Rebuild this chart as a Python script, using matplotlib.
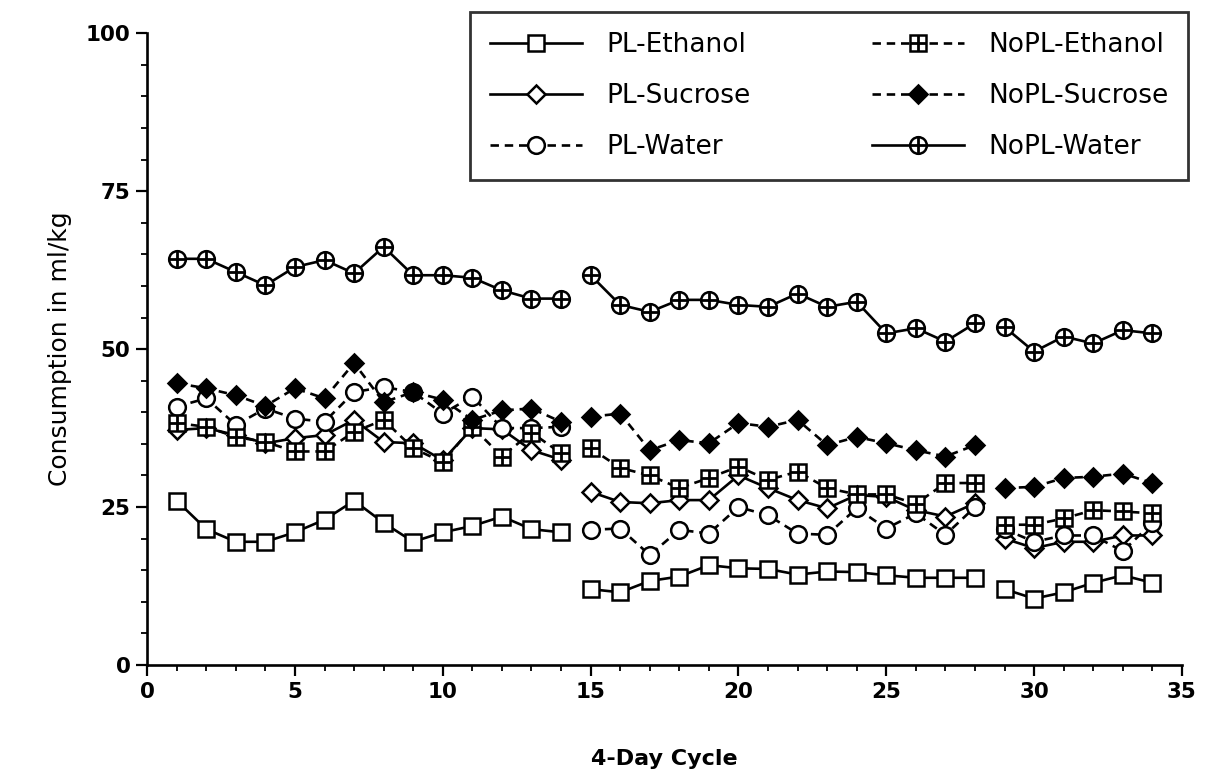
import numpy as np
import matplotlib
matplotlib.use("Agg")
import matplotlib.pyplot as plt
from matplotlib.ticker import MultipleLocator

cycles = list(range(1, 35))
segments = [(0, 14), (14, 28), (28, 34)]

pl_ethanol = [26, 21.5, 19.5, 19.5, 21, 23, 26, 22.5, 19.5, 21, 22, 23.5, 21.5, 21,
              12, 11.5, 13.3, 14, 15.8, 15.3, 15.2, 14.3, 14.8, 14.7, 14.2, 13.8, 13.8, 13.8,
              12, 10.5, 11.5, 13, 14.2, 13]
pl_sucrose = [37.2, 37.5, 36.4, 35.1, 35.9, 36.4, 38.8, 35.3, 35.1, 32.4, 37.5, 37.3, 34, 32.5,
              27.4, 25.8, 25.6, 26.1, 26.1, 30, 28, 26.1, 24.8, 26.9, 26.6, 24.5, 23.5, 25.6,
              20, 18.5, 19.5, 19.5, 20.5, 20.5]
pl_water = [40.9, 42.2, 38, 40.6, 39, 38.5, 43.2, 44, 43.2, 39.8, 42.5, 37.5, 37.5, 37.7,
            21.4, 21.6, 17.4, 21.4, 20.8, 25, 23.7, 20.8, 20.6, 24.8, 21.6, 24, 20.6, 25,
            21.5, 19.5, 20.5, 20.5, 18, 22.5]
nopl_ethanol = [38.3, 37.7, 36.1, 35.3, 33.8, 33.8, 36.9, 38.8, 34.3, 32.1, 37.7, 33, 36.8, 33.5,
                34.3, 31.2, 30, 28, 29.6, 31.4, 29.3, 30.6, 28, 27, 27, 25.5, 28.8, 28.8,
                22.2, 22.2, 23.2, 24.5, 24.3, 24]
nopl_sucrose = [44.6, 43.8, 42.7, 41, 43.8, 42.2, 47.8, 41.6, 43.2, 42, 38.8, 40.3, 40.6, 38.5,
                39.3, 39.8, 34, 35.6, 35.1, 38.3, 37.7, 38.8, 34.8, 36.1, 35.1, 34, 33, 34.8,
                28, 28.2, 29.6, 29.8, 30.3, 28.8]
nopl_water = [64.3, 64.3, 62.2, 60.1, 63, 64.1, 62, 66.2, 61.7, 61.7, 61.3, 59.3, 58, 58,
              61.7, 57, 55.9, 57.8, 57.8, 57, 56.7, 58.8, 56.7, 57.5, 52.5, 53.3, 51.2, 54.1,
              53.5, 49.6, 52, 50.9, 53, 52.5]

dash = (0, (3.2, 2.2))
lw = 1.9
ms = 12

# (label, data, marker, facecolor, linestyle, overlay plus)
series = [
    ("PL-Ethanol", pl_ethanol, "s", "white", "-", False),
    ("PL-Sucrose", pl_sucrose, "D", "white", "-", False),
    ("PL-Water", pl_water, "o", "white", dash, False),
    ("NoPL-Ethanol", nopl_ethanol, "s", "white", dash, True),
    ("NoPL-Sucrose", nopl_sucrose, "D", "black", dash, False),
    ("NoPL-Water", nopl_water, "o", "white", "-", True),
]

fig = plt.figure(figsize=(12.16, 7.75), dpi=100)
ax = fig.add_axes([0.121, 0.142, 0.851, 0.815])

x = np.array(cycles)
handles = []
labels = []
for label, data, mk, fc, ls, plus in series:
    y = np.array(data)
    msz = ms if mk != "D" else ms * 0.8
    for a, b in segments:
        line, = ax.plot(x[a:b], y[a:b], color="black", lw=lw, ls=ls, marker=mk,
                        markersize=msz, markerfacecolor=fc, markeredgecolor="black",
                        markeredgewidth=1.8, zorder=3)
        if plus:
            pl, = ax.plot(x[a:b], y[a:b], ls="none", marker="+", markersize=msz * 0.95,
                          color="black", markeredgewidth=2.0, zorder=4)
    if plus:
        handles.append((line, pl))
    else:
        handles.append(line)
    labels.append(label)

ax.set_xlim(0, 35)
ax.set_ylim(0, 100)
ax.xaxis.set_major_locator(MultipleLocator(5))
ax.xaxis.set_minor_locator(MultipleLocator(1))
ax.yaxis.set_major_locator(MultipleLocator(25))
ax.yaxis.set_minor_locator(MultipleLocator(5))

for s in ["top", "right"]:
    ax.spines[s].set_visible(False)
for s in ["left", "bottom"]:
    ax.spines[s].set_linewidth(1.9)

ax.tick_params(which="major", direction="out", length=8, width=1.6, pad=4)
ax.tick_params(which="minor", direction="out", length=4, width=1.3)
for t in ax.get_xticklabels() + ax.get_yticklabels():
    t.set_fontsize(15.5)
    t.set_fontweight("bold")

ax.set_xlabel("4-Day Cycle", fontsize=16, fontweight="bold", labelpad=34)
ax.set_ylabel("Consumption in ml/kg", fontsize=18, labelpad=10)

leg = ax.legend(handles, labels, ncol=2, loc="upper right",
                bbox_to_anchor=(1.0058, 1.033), borderaxespad=0, fontsize=19,
                numpoints=1, handlelength=3.5, handletextpad=0.9, columnspacing=4.6,
                labelspacing=0.95, borderpad=0.75, fancybox=False, frameon=True)
leg.get_frame().set_edgecolor("black")
leg.get_frame().set_linewidth(2.0)
leg.set_zorder(5)

fig.savefig("out.png", dpi=100)
